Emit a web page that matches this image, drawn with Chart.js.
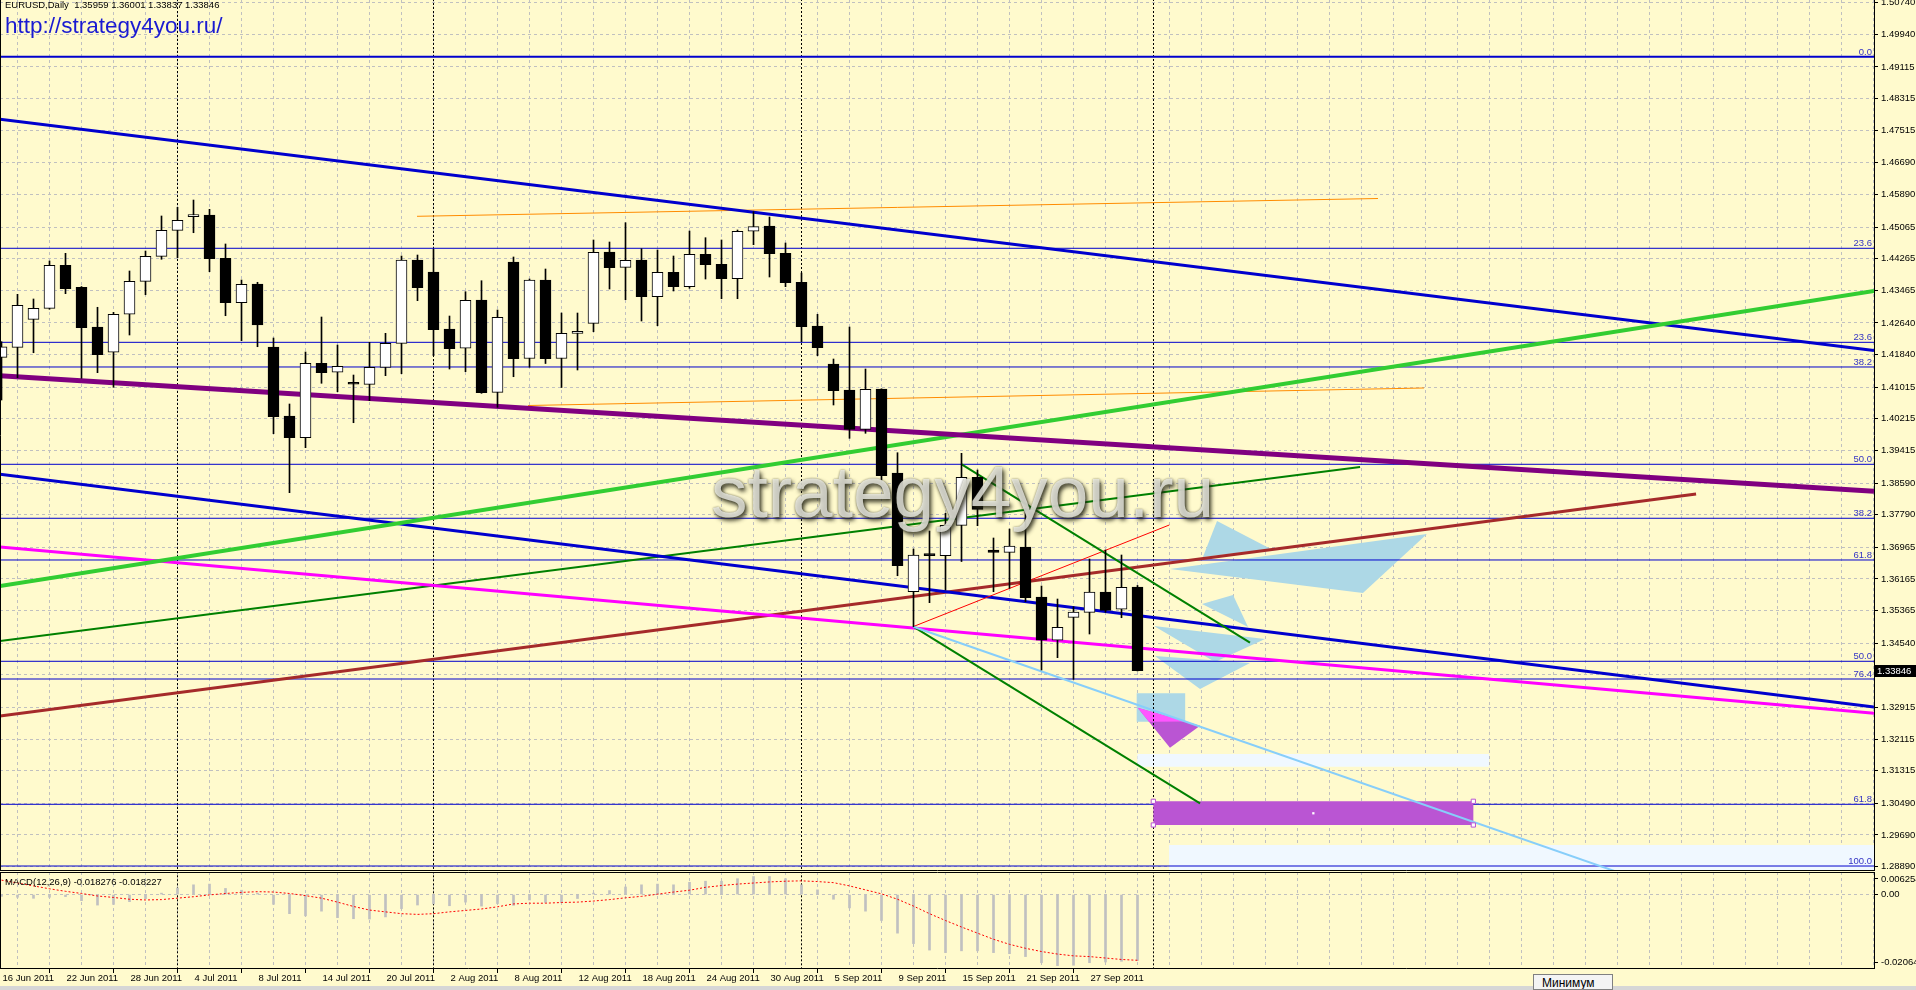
<!DOCTYPE html>
<html lang="ru">
<head>
<meta charset="utf-8">
<title>EURUSD Daily</title>
<script src="https://cdn.jsdelivr.net/npm/chart.js@4.4.1/dist/chart.umd.min.js"></script>
<style>
html,body{margin:0;padding:0;background:#FFFACD;width:1916px;height:990px;overflow:hidden;}
#wrap{position:relative;width:1916px;height:990px;background:#FFFACD;}
canvas{position:absolute;left:0;}
#main{top:0;width:1916px;height:871px;}
#macd{top:872px;width:1916px;height:118px;}
.t{position:absolute;font-family:"Liberation Sans",Arial,sans-serif;white-space:pre;}
#title{left:5px;top:-1px;font-size:9.5px;line-height:12px;color:#000;}
#url{left:5px;top:12.5px;font-size:22.5px;line-height:26px;color:#1a1ad2;}
#wm{left:711px;top:452px;font-size:73px;line-height:80px;color:rgba(244,244,236,0.78);
    text-shadow:2px 3px 4px rgba(35,35,20,0.9),0 0 2px rgba(60,60,40,0.6);}
#macdlbl{left:5px;top:876px;font-size:9.5px;line-height:11px;color:#000;}
#status{position:absolute;left:0;top:986px;width:1916px;height:4px;background:#d6d6d6;}
#tip{left:1533px;top:974px;width:80px;height:16px;border:1px solid #808080;background:#f4f4f4;
     font-size:12px;line-height:16px;padding-left:8px;box-sizing:border-box;color:#000;overflow:hidden;}
</style>
</head>
<body>
<div id="wrap">
<canvas id="main" width="1916" height="871"></canvas>
<canvas id="macd" width="1916" height="118"></canvas>
<div id="title" class="t"></div>
<div id="url" class="t">http://strategy4you.ru/</div>
<div id="wm" class="t">strategy4you.ru</div>
<div id="macdlbl" class="t"></div>
<div id="status"></div>
<div id="tip" class="t">Минимум</div>
</div>
<script>
// ---------------- DATA ----------------
const dates = ["16 Jun 2011","17 Jun 2011","20 Jun 2011","21 Jun 2011","22 Jun 2011","23 Jun 2011","24 Jun 2011","27 Jun 2011","28 Jun 2011","29 Jun 2011","30 Jun 2011",
"1 Jul 2011","4 Jul 2011","5 Jul 2011","6 Jul 2011","7 Jul 2011","8 Jul 2011","11 Jul 2011","12 Jul 2011","13 Jul 2011","14 Jul 2011","15 Jul 2011","18 Jul 2011","19 Jul 2011","20 Jul 2011","21 Jul 2011","22 Jul 2011",
"1 Aug 2011","2 Aug 2011","3 Aug 2011","4 Aug 2011","5 Aug 2011","8 Aug 2011","9 Aug 2011","10 Aug 2011","11 Aug 2011","12 Aug 2011","15 Aug 2011","16 Aug 2011","17 Aug 2011","18 Aug 2011","19 Aug 2011","22 Aug 2011","23 Aug 2011","24 Aug 2011","25 Aug 2011","26 Aug 2011","29 Aug 2011","30 Aug 2011","31 Aug 2011",
"1 Sep 2011","2 Sep 2011","5 Sep 2011","6 Sep 2011","7 Sep 2011","8 Sep 2011","9 Sep 2011","12 Sep 2011","13 Sep 2011","14 Sep 2011","15 Sep 2011","16 Sep 2011","19 Sep 2011","20 Sep 2011","21 Sep 2011","22 Sep 2011","23 Sep 2011","26 Sep 2011","27 Sep 2011","28 Sep 2011","29 Sep 2011","30 Sep 2011"];

const openP = [1.41771,1.42024,1.42732,1.43010,1.44098,1.43541,1.42537,1.41898,1.42859,1.43693,
1.44325,1.44983,1.45330,1.45370,1.44275,1.43152,1.43625,1.42032,1.40287,1.39738,
1.41619,1.41392,1.41103,1.41088,1.41518,1.42125,1.44232,1.43928,1.42487,1.41999,
1.43220,1.40886,1.44181,1.41741,1.43726,1.41741,1.42378,1.42631,1.44434,1.44047,
1.44232,1.43304,1.43920,1.43557,1.44376,1.44123,1.43759,1.44958,1.45092,1.44401,
1.43668,1.42563,1.41601,1.40944,1.39950,1.40970,1.38845,1.35843,1.36764,1.36754,
1.37522,1.38736,1.36898,1.36839,1.36973,1.35709,1.34614,1.35195,1.35322,1.35835,
1.35398,1.35959];
const highP = [1.42166,1.43364,1.43246,1.44207,1.44401,1.43560,1.43036,1.42909,1.43954,1.44459,
1.45345,1.45565,1.45749,1.45514,1.44637,1.43726,1.43668,1.42259,1.40590,1.41905,
1.42790,1.42081,1.41323,1.42150,1.42378,1.44333,1.44358,1.44502,1.42815,1.43430,
1.43708,1.42967,1.44308,1.43751,1.44004,1.42891,1.42891,1.44738,1.44687,1.45175,
1.44518,1.44485,1.44333,1.44965,1.44796,1.44738,1.44991,1.45454,1.45319,1.44662,
1.43903,1.42859,1.41728,1.42537,1.41475,1.40975,1.39358,1.36923,1.37378,1.37826,
1.39343,1.38921,1.37201,1.37428,1.37952,1.35987,1.35658,1.35463,1.36670,1.36898,
1.36771,1.36001];
const lowP = [1.40691,1.41255,1.41887,1.42985,1.43380,1.41240,1.41382,1.41012,1.42335,1.43354,
1.44250,1.44290,1.44922,1.43936,1.42823,1.42191,1.42039,1.39839,1.38347,1.39485,
1.41114,1.40901,1.40117,1.40674,1.41306,1.41357,1.43203,1.41811,1.41475,1.41407,
1.40860,1.40506,1.41280,1.41521,1.41614,1.41007,1.41450,1.42418,1.43498,1.43228,
1.42689,1.42570,1.43448,1.43516,1.43751,1.43253,1.43253,1.44619,1.43802,1.43557,
1.42166,1.41811,1.40565,1.39722,1.39849,1.38668,1.36247,1.34957,1.35565,1.35886,
1.36606,1.37512,1.35843,1.35929,1.35590,1.33863,1.34174,1.33627,1.34773,1.35322,
1.35185,1.33837];
const closeP = [1.42039,1.43086,1.43010,1.44098,1.43506,1.42520,1.41837,1.42859,1.43693,1.44325,
1.44983,1.45236,1.45345,1.44265,1.43152,1.43617,1.42588,1.40269,1.39738,1.41619,
1.41382,1.41543,1.41090,1.41518,1.42125,1.44232,1.43531,1.42469,1.41989,1.43213,
1.40876,1.42783,1.41736,1.43726,1.41736,1.42378,1.42429,1.44424,1.44037,1.44224,
1.43304,1.43920,1.43557,1.44376,1.44113,1.43759,1.44958,1.45074,1.44391,1.43658,
1.42545,1.42014,1.40926,1.39950,1.40962,1.38777,1.36500,1.36771,1.36754,1.37522,
1.38736,1.37927,1.36839,1.36998,1.35691,1.34614,1.34943,1.35329,1.35835,1.35372,
1.35954,1.33846];

const macdMain = [-0.0005,-0.00075,-0.00104,-0.00075,-0.00057,-0.0017,-0.00292,-0.00273,-0.00198,-0.00113,
0.0004,0.0018,0.0027,0.0029,0.0017,0.0012,0.0004,-0.0027,-0.0053,-0.0059,
-0.0046,-0.0064,-0.0067,-0.0068,-0.0062,-0.0039,-0.0029,-0.0026,-0.0031,-0.0021,
-0.0032,-0.0025,-0.0030,-0.0015,-0.0022,-0.0022,-0.0011,0.0004,0.0011,0.0021,
0.0027,0.0029,0.0027,0.0034,0.0037,0.0037,0.0044,0.0050,0.0050,0.0044,
0.0027,0.0013,-0.0013,-0.0037,-0.0046,-0.0072,-0.0107,-0.0136,-0.0154,-0.0161,
-0.0156,-0.0156,-0.0161,-0.0164,-0.0172,-0.0189,-0.0197,-0.0196,-0.0189,-0.0187,
-0.0185,-0.018276];
const macdSignal = [0.0040,0.0032,0.0024,0.0016,0.0009,0.0003,-0.0004,-0.0008,-0.0013,-0.0015,
-0.0014,-0.0010,-0.0006,-0.0001,0.0003,0.0006,0.0008,0.0007,0.0003,-0.0003,
-0.0010,-0.0021,-0.0033,-0.0043,-0.0048,-0.0053,-0.0055,-0.0053,-0.0048,-0.0044,
-0.0040,-0.0034,-0.0026,-0.0024,-0.0024,-0.0022,-0.0021,-0.0018,-0.0014,-0.0009,
-0.0005,0.0001,0.0007,0.0012,0.0020,0.0025,0.0029,0.0032,0.0035,0.0037,
0.0038,0.0036,0.0033,0.0024,0.0013,0.0002,-0.0013,-0.0032,-0.0053,-0.0072,
-0.0090,-0.0107,-0.0124,-0.0138,-0.0149,-0.0158,-0.0165,-0.0170,-0.0172,-0.0176,
-0.0180,-0.018227];

const priceTicks = [1.50740,1.49940,1.49115,1.48315,1.47515,1.46690,1.45890,1.45065,1.44265,1.43465,
1.42640,1.41840,1.41015,1.40215,1.39415,1.38590,1.37790,1.36965,1.36165,1.35365,
1.34540,1.33740,1.32915,1.32115,1.31315,1.30490,1.29690,1.28890];
const macdTicks = [0.006254, 0, -0.02064];
const macdTickLabels = ["0.006254","0.00","-0.02064"];

const fibPrices = [1.49374,1.44528,1.42150,1.41526,1.39065,1.37700,1.36645,1.34083,1.33635,1.30466,1.28905];
const fibLabels = ["0.0","23.6","23.6","38.2","50.0","38.2","61.8","50.0","76.4","61.8","100.0"];

// drawn objects: [bar index, price]
const lineBlueUpper = [[-0.094,1.47793],[117.03,1.41943]];
const lineOrange1   = [[25.97,1.45337],[86.03,1.45787]];
const lineOrange2   = [[32.91,1.40552],[88.91,1.40995]];
const linePurple    = [[-0.094,1.41306],[117.03,1.38382]];
const lineLime      = [[-0.094,1.35987],[117.03,1.43448]];
const lineBlueLower = [[-0.094,1.38812],[117.03,1.32927]];
const lineMagenta   = [[-0.094,1.36973],[117.03,1.32768]];
const lineGreen1    = [[-0.094,1.34596],[84.91,1.38997]];
const lineBrown     = [[-0.094,1.32699],[105.91,1.38314]];
const lineRed       = [[56.97,1.34958],[72.99,1.37530]];
const lineGreen2    = [[60.01,1.39065],[78.03,1.34553]];
const lineGreen3    = [[56.99,1.34958],[74.91,1.30491]];
const lineSky       = [[56.99,1.34958],[101.16,1.28729]];

const triA = [[75.97,1.37631],[79.34,1.36923],[75.09,1.36720]];
const triB = [[73.03,1.36417],[89.09,1.37302],[85.09,1.35810]];
const triC = [[75.03,1.35532],[76.97,1.35760],[77.91,1.34950]];
const triD = [[72.03,1.34975],[78.97,1.34647],[75.84,1.34065]];
const triE = [[72.09,1.34217],[78.03,1.34040],[74.91,1.33382]];
const boxSky = [[70.95,1.33273],[73.98,1.33273],[73.98,1.32555],[70.95,1.32555]];
const triPink = [[71.01,1.32909],[74.91,1.32454],[73.03,1.31898]];
const triPinkOverlap = [[71.01,1.32909],[73.99,1.32563],[71.72,1.32555]];
const rectOrchid = [[71.99,1.30542],[91.99,1.30542],[91.99,1.29943],[71.99,1.29943]];
const rectAlice1 = [[70.99,1.31738],[92.97,1.31738],[92.97,1.31417],[70.99,1.31417]];
const rectAlice2 = [[72.97,1.29437],[118.5,1.29437],[118.5,1.2800],[72.97,1.2800]];
const rectHandles = [[71.99,1.30542],[91.99,1.30542],[71.99,1.29943],[91.99,1.29943]];
const rectCenter = [[81.99,1.30239]];

// ---------------- LAYOUT / STYLE ----------------
const FONT = '"Liberation Sans", Arial, sans-serif';
const GRID = '#C0C0C0';
const X_MIN = -0.09375, X_MAX = 117.03125;
const Y_MIN = 1.287792, Y_MAX = 1.508075;
const M_MIN = -0.02064, M_MAX = 0.006254;
const M_INSET = 0.072 * (M_MAX - M_MIN);
const fmt5 = v => (v + 1e-9).toFixed(5);
const fmt6 = v => (v < 0 ? v - 1e-10 : v + 1e-10).toFixed(6);

const last = closeP.length - 1;
document.getElementById('title').textContent =
  'EURUSD,Daily  ' + [openP[last], highP[last], lowP[last], closeP[last]].map(fmt5).join(' ');
document.getElementById('macdlbl').textContent =
  'MACD(12,26,9) ' + fmt6(macdMain[last]) + ' ' + fmt6(macdSignal[last]);

const gridIdx = [];
for (let v = 0; v <= 116; v += 2) gridIdx.push(v);
const monthOf = d => d.split(' ')[1];
const separators = [];
for (let i = 1; i < dates.length; i++) if (monthOf(dates[i]) !== monthOf(dates[i - 1])) separators.push(i);
separators.push(dates.length);

const toXY = pts => pts.map(p => ({x: p[0], y: p[1]}));
const seg = (pts, color, width, order, extra) => Object.assign({
  type: 'line', data: toXY(pts), borderColor: color, borderWidth: width,
  pointRadius: 0, pointHoverRadius: 0, fill: false, tension: 0, order: order
}, extra || {});
const poly = (pts, color, order) => ({
  type: 'line', data: toXY(pts), showLine: false, pointRadius: 0, pointHoverRadius: 0, borderWidth: 0,
  polyFill: color, order: order
});

const polyPlugin = {
  id: 'polyFill',
  afterDatasetDraw(chart, args) {
    const ds = chart.data.datasets[args.index];
    if (!ds.polyFill) return;
    const ctx = chart.ctx, a = chart.chartArea, pts = args.meta.data;
    ctx.save();
    ctx.beginPath(); ctx.rect(a.left, a.top, a.right - a.left, a.bottom - a.top); ctx.clip();
    ctx.beginPath();
    pts.forEach((p, k) => k ? ctx.lineTo(p.x, p.y) : ctx.moveTo(p.x, p.y));
    ctx.closePath();
    ctx.fillStyle = ds.polyFill; ctx.fill();
    ctx.restore();
  }
};
const framePlugin = {
  id: 'frame',
  afterDraw(chart, args, opts) {
    const {ctx, chartArea: a} = chart;
    ctx.save(); ctx.strokeStyle = '#000'; ctx.lineWidth = 1; ctx.setLineDash([]);
    ctx.beginPath();
    if (opts.top) { ctx.moveTo(a.left, a.top + 0.5); ctx.lineTo(a.right + 1, a.top + 0.5); }
    ctx.moveTo(a.left + 0.5, a.top); ctx.lineTo(a.left + 0.5, a.bottom);
    ctx.moveTo(a.right + 0.5, a.top); ctx.lineTo(a.right + 0.5, a.bottom);
    ctx.moveTo(a.left, a.bottom - 0.5); ctx.lineTo(a.right + 1, a.bottom - 0.5);
    ctx.stroke(); ctx.restore();
  }
};
const labelsPlugin = {
  id: 'fibLabels',
  afterDraw(chart) {
    const ctx = chart.ctx, a = chart.chartArea, ys = chart.scales.y;
    ctx.save();
    ctx.font = '9.5px ' + FONT; ctx.fillStyle = '#3434c4';
    ctx.textAlign = 'right'; ctx.textBaseline = 'alphabetic';
    fibPrices.forEach((p, k) => ctx.fillText(fibLabels[k], a.right - 2, ys.getPixelForValue(p) - 2));
    const y = Math.round(ys.getPixelForValue(closeP[last]));
    ctx.fillStyle = '#000'; ctx.fillRect(a.right + 1, y - 6, 42, 12);
    ctx.fillStyle = '#fff'; ctx.textAlign = 'left'; ctx.textBaseline = 'middle';
    ctx.fillText(fmt5(closeP[last]), a.right + 3, y + 0.5);
    ctx.restore();
  }
};

const common = {
  responsive: false, animation: false, devicePixelRatio: 1, events: [],
  layout: {padding: 0, autoPadding: false},
  plugins: {legend: {display: false}, tooltip: {enabled: false}}
};

// ---------------- MAIN CHART ----------------
const mainDatasets = [];
mainDatasets.push(poly(rectAlice2, '#F0F8FF', 100));
mainDatasets.push(poly(rectAlice1, '#F0F8FF', 99));
mainDatasets.push(poly(triB, '#ADD8E6', 98));
mainDatasets.push(poly(triA, '#ADD8E6', 97));
mainDatasets.push(poly(triD, '#ADD8E6', 96));
mainDatasets.push(poly(triC, '#ADD8E6', 95));
mainDatasets.push(poly(triE, '#ADD8E6', 94));
mainDatasets.push(poly(boxSky, '#ADD8E6', 93));
mainDatasets.push(poly(triPink, '#BA55D3', 92));
mainDatasets.push(poly(triPinkOverlap, '#FF55FF', 91));
separators.forEach(s => mainDatasets.push(seg([[s, Y_MIN - 1], [s, Y_MAX + 1]], '#000', 1, 90, {borderDash: [2, 2]})));
fibPrices.forEach((p, k) => mainDatasets.push(seg([[-1, p], [118.5, p]], '#0000CD', k === 0 ? 2 : 1, 80)));
mainDatasets.push(poly(rectOrchid, '#BA55D3', 75));
mainDatasets.push(seg(lineOrange1, '#FF8C00', 1, 70));
mainDatasets.push(seg(lineOrange2, '#FF8C00', 1, 70));
mainDatasets.push(seg(lineBlueUpper, '#0000CD', 3, 69));
mainDatasets.push(seg(lineGreen1, '#008000', 2, 68));
mainDatasets.push(seg(lineBrown, '#A52A2A', 3, 67));
mainDatasets.push(seg(lineMagenta, '#FF00FF', 3, 66));
mainDatasets.push(seg(lineBlueLower, '#0000CD', 3, 65));
mainDatasets.push(seg(lineLime, '#32CD32', 4, 64));
mainDatasets.push(seg(linePurple, '#800080', 5, 63));
mainDatasets.push(seg(lineRed, '#FF0000', 1, 62));
mainDatasets.push(seg(lineGreen2, '#008000', 2, 61));
mainDatasets.push(seg(lineGreen3, '#008000', 2, 61));
mainDatasets.push(seg(lineSky, '#87CEFA', 2, 60));
mainDatasets.push({type: 'line', data: toXY(rectHandles), showLine: false, order: 10,
  pointStyle: 'rect', pointRadius: 3, pointHoverRadius: 3, pointBackgroundColor: '#fff', pointBorderColor: '#BA55D3', pointBorderWidth: 1});
mainDatasets.push({type: 'line', data: toXY(rectCenter), showLine: false, order: 9,
  pointStyle: 'rect', pointRadius: 1.6, pointHoverRadius: 1.6, pointBackgroundColor: '#fff', pointBorderWidth: 0});
mainDatasets.push({type: 'bar', order: 2, grouped: false, barThickness: 1,
  data: dates.map((d, i) => ({x: i, y: [lowP[i], highP[i]]})),
  backgroundColor: '#000', borderWidth: 0});
mainDatasets.push({type: 'bar', order: 1, grouped: false, barThickness: 11, minBarLength: 2,
  data: dates.map((d, i) => ({x: i, y: [openP[i], closeP[i]]})),
  backgroundColor: dates.map((d, i) => closeP[i] >= openP[i] ? '#FFFFFF' : '#000000'),
  borderColor: '#000', borderWidth: 1, borderSkipped: false});

new Chart(document.getElementById('main'), {
  type: 'line',
  data: {datasets: mainDatasets},
  options: Object.assign({}, common, {
    plugins: Object.assign({}, common.plugins, {frame: {top: false}}),
    scales: {
      x: {type: 'linear', min: X_MIN, max: X_MAX, offset: false,
        afterBuildTicks: s => { s.ticks = gridIdx.map(v => ({value: v})); },
        afterFit: s => { s.height = 0; s.paddingLeft = 0; s.paddingRight = 0; },
        ticks: {display: false},
        grid: {color: GRID, lineWidth: 1, drawTicks: false},
        border: {display: false, dash: [3, 3]}},
      y: {type: 'linear', position: 'right', min: Y_MIN, max: Y_MAX,
        afterBuildTicks: s => { s.ticks = priceTicks.map(v => ({value: v})); },
        afterFit: s => { s.width = 42; s.paddingTop = 0; s.paddingBottom = 0; },
        ticks: {callback: v => fmt5(v), color: '#000', font: {family: FONT, size: 9.5}, padding: 3, autoSkip: false},
        grid: {color: GRID, lineWidth: 1, drawTicks: true, tickLength: 4, tickColor: '#000'},
        border: {display: false, dash: [3, 3]}}
    }
  }),
  plugins: [polyPlugin, labelsPlugin, framePlugin]
});

// ---------------- MACD CHART ----------------
const macdDatasets = [];
separators.forEach(s => macdDatasets.push(seg([[s, -1], [s, 1]], '#000', 1, 90, {borderDash: [2, 2]})));
macdDatasets.push({type: 'bar', order: 2, grouped: false, barThickness: 2,
  data: dates.map((d, i) => ({x: i, y: macdMain[i]})), backgroundColor: '#C0C0C0', borderWidth: 0});
macdDatasets.push({type: 'line', order: 1, data: dates.map((d, i) => ({x: i, y: macdSignal[i]})),
  borderColor: '#FF0000', borderWidth: 1, borderDash: [2, 2], pointRadius: 0, pointHoverRadius: 0, tension: 0, fill: false});

const macdTickPos = [macdTicks[0] - M_INSET, macdTicks[1], macdTicks[2] + M_INSET];
new Chart(document.getElementById('macd'), {
  type: 'line',
  data: {datasets: macdDatasets},
  options: Object.assign({}, common, {
    plugins: Object.assign({}, common.plugins, {frame: {top: true}}),
    scales: {
      x: {type: 'linear', min: X_MIN, max: X_MAX, offset: false, position: 'bottom',
        afterBuildTicks: s => { s.ticks = gridIdx.map(v => ({value: v})); },
        afterFit: s => { s.height = 21; s.paddingLeft = 0; s.paddingRight = 0; },
        ticks: {autoSkip: false, maxRotation: 0, minRotation: 0, align: 'start', labelOffset: 1, padding: 0,
          color: '#000', font: {family: FONT, size: 9.5},
          callback: v => (v % 4 === 0 && v < dates.length) ? dates[v] : ''},
        grid: {color: GRID, lineWidth: 1, drawTicks: true, tickLength: 4,
          tickColor: c => (c.tick && c.tick.value % 4 === 0 && c.tick.value < dates.length) ? '#000' : 'rgba(0,0,0,0)'},
        border: {display: false, dash: [3, 3]}},
      y: {type: 'linear', position: 'right', min: M_MIN, max: M_MAX,
        afterBuildTicks: s => { s.ticks = macdTickPos.map(v => ({value: v})); },
        afterFit: s => { s.width = 42; s.paddingTop = 0; s.paddingBottom = 0; },
        ticks: {callback: (v, i) => macdTickLabels[i], color: '#000', font: {family: FONT, size: 9.5}, padding: 3, autoSkip: false},
        grid: {color: c => (c.tick && c.tick.value === 0) ? GRID : 'rgba(0,0,0,0)', lineWidth: 1,
          drawTicks: true, tickLength: 4, tickColor: '#000'},
        border: {display: false, dash: [3, 3]}}
    }
  }),
  plugins: [framePlugin]
});
</script>
</body>
</html>
